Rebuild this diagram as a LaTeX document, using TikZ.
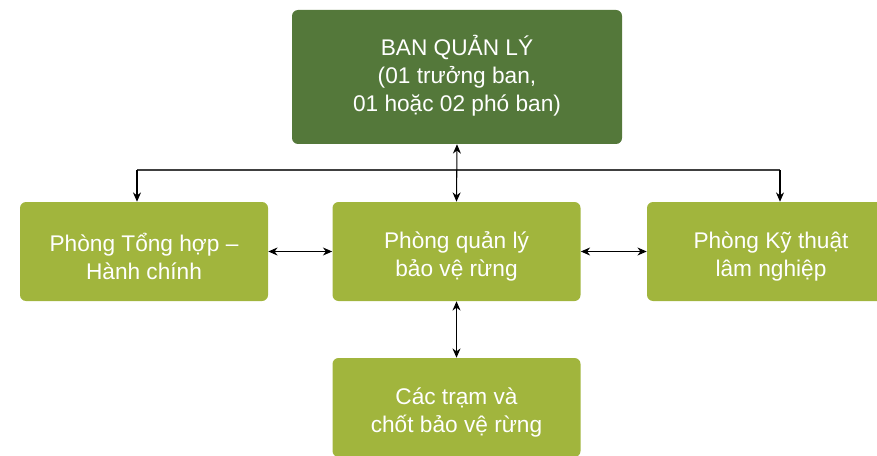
\documentclass[tikz,border=0pt]{standalone}
\usepackage{fontspec}
\setmainfont{Liberation Sans}
\usetikzlibrary{arrows.meta}
\definecolor{bqldark}{HTML}{54783A}
\definecolor{bqllight}{HTML}{A1B53D}
\begin{document}
\begin{tikzpicture}[x=0.75pt, y=-0.75pt,
  bqltext/.style = {inner sep=0pt, align=center, text=white,
    font=\fontsize{17}{21}\selectfont},
  bqlhead/.style = {rounded corners=4.5pt, fill=bqldark, inner sep=0pt,
    minimum width=247.5pt, minimum height=100.5pt},
  bqldept/.style = {rounded corners=4.5pt, fill=bqllight, inner sep=0pt,
    minimum width=186pt, minimum height=74.25pt},
  bqllink/.style = {draw=black, line width=0.8pt, -{Stealth[length=7pt,width=6pt]}},
  bqlboth/.style = {bqllink, {Stealth[length=7pt,width=6pt]}-{Stealth[length=7pt,width=6pt]}}
]
  \useasboundingbox (0,0) rectangle (877,456);
  \clip (0,0) rectangle (877,456);
  % ban quan ly
  \node[bqlhead] (bql) at (457,77) {};
  \node[bqltext] (bql-t) at ([yshift=1pt]bql.center) {BAN QUẢN LÝ\\(01 trưởng ban,\\01 hoặc 02 phó ban)};
  % cac phong
  \node[bqldept] (thhc) at (144,251.5) {};
  \node[bqldept] (qlbv) at (456.5,251.5) {};
  \node[bqldept] (ktln) at (771,251.5) {};
  \node[bqldept] (tram) at (456.5,407.5) {};
  \node[bqltext] (thhc-t) at ([yshift=-4pt]thhc.center) {Phòng Tổng hợp –\\Hành chính};
  \node[bqltext] (qlbv-t) at ([yshift=-4pt]qlbv.center) {Phòng quản lý\\bảo vệ rừng};
  \node[bqltext] (ktln-t) at ([yshift=-4pt]ktln.center) {Phòng Kỹ thuật\\lâm nghiệp};
  \node[bqltext] (tram-t) at ([yshift=-4pt]tram.center) {Các trạm và\\chốt bảo vệ rừng};
  % duong noi
  \coordinate (busL) at (137,170);
  \coordinate (busR) at (780,170);
  \draw[draw=black!75, line width=0.8pt] (busL) -- (busR);
  \draw[bqllink] (busL) -- (busL |- thhc.north);
  \draw[bqllink] (busR) -- (busR |- ktln.north);
  \draw[bqlboth] (bql.south) -- (qlbv.north);
  \draw[bqlboth] (thhc.east) -- (qlbv.west);
  \draw[bqlboth] (qlbv.east) -- (ktln.west);
  \draw[bqlboth] (qlbv.south) -- (tram.north);
\end{tikzpicture}
\end{document}
